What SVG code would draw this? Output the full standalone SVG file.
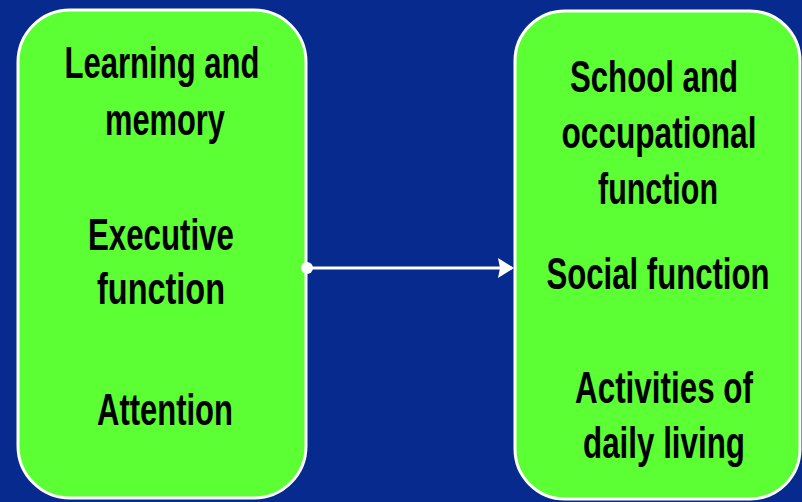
<svg xmlns="http://www.w3.org/2000/svg" width="802" height="502" viewBox="0 0 802 502">
<defs>
<style>
.box{fill:#5cff33;stroke:#ffffff;stroke-width:3}
.t{font-family:"Liberation Sans",Arial,sans-serif;font-weight:bold;font-size:32px;fill:#000;text-anchor:middle}
.conn{stroke:#ffffff;stroke-width:3;fill:none}
</style>
<marker id="arr" markerWidth="16" markerHeight="20" refX="14" refY="10" orient="auto" markerUnits="userSpaceOnUse" viewBox="0 0 16 20">
<path d="M0,0 L16,10 L0,20 L2,10 z" fill="#ffffff"/>
</marker>
</defs>
<rect width="802" height="502" fill="#062a8e"/>
<g id="node-left">
<rect class="box" x="18" y="10" width="288" height="488" rx="52" ry="52"/>
<g transform="scale(1,1.375)">
<text class="t" x="162" y="56.73" textLength="195" lengthAdjust="spacingAndGlyphs">Learning and</text>
<text class="t" x="165" y="98.18" textLength="120" lengthAdjust="spacingAndGlyphs">memory</text>
<text class="t" x="161" y="181.82" textLength="146" lengthAdjust="spacingAndGlyphs">Executive</text>
<text class="t" x="161" y="221.09" textLength="128" lengthAdjust="spacingAndGlyphs">function</text>
<text class="t" x="165" y="309.09" textLength="136" lengthAdjust="spacingAndGlyphs">Attention</text>
</g>
</g>
<g id="node-right">
<rect class="box" x="515" y="11" width="285" height="488" rx="50" ry="50"/>
<g transform="scale(1,1.375)">
<text class="t" x="654" y="66.91" textLength="168" lengthAdjust="spacingAndGlyphs">School and</text>
<text class="t" x="659" y="107.64" textLength="195" lengthAdjust="spacingAndGlyphs">occupational</text>
<text class="t" x="658" y="148.36" textLength="120" lengthAdjust="spacingAndGlyphs">function</text>
<text class="t" x="658" y="210.18" textLength="223" lengthAdjust="spacingAndGlyphs">Social function</text>
<text class="t" x="664" y="293.09" textLength="178" lengthAdjust="spacingAndGlyphs">Activities of</text>
<text class="t" x="664" y="333.09" textLength="162" lengthAdjust="spacingAndGlyphs">daily living</text>
</g>
</g>
<g id="connectors">
<circle cx="307" cy="268" r="6" fill="#ffffff"/>
<line class="conn" x1="307" y1="268" x2="512" y2="268" marker-end="url(#arr)"/>
</g>
</svg>
